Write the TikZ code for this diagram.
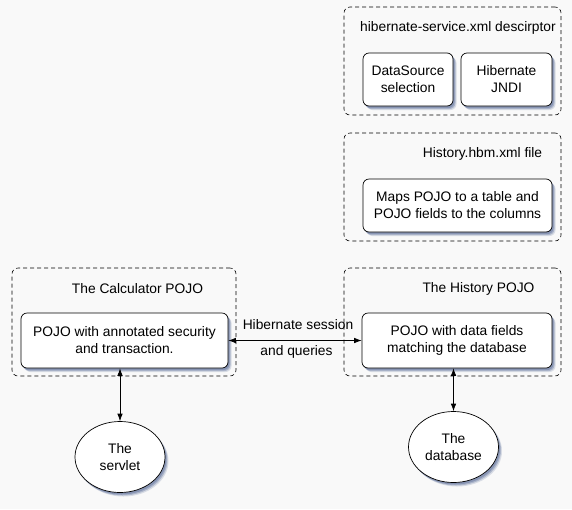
\documentclass[tikz,border=0pt]{standalone}
\usepackage{fontspec}
\setmainfont{Liberation Sans}
\usetikzlibrary{shadows,arrows.meta,shapes.geometric}
\definecolor{shadowc}{RGB}{120,135,170}
\definecolor{bgc}{RGB}{249,249,249}
\begin{document}
\begin{tikzpicture}[x=1pt,y=-1pt,
  font=\fontsize{13.8}{17}\selectfont,
  group/.style={draw, dash pattern=on 4pt off 3pt, rounded corners=6pt, line width=0.6pt, inner sep=0pt},
  myshadow/.style={
    drop shadow={shadow xshift=3.5pt, shadow yshift=-4pt, fill=shadowc, opacity=0.25},
    drop shadow={shadow xshift=2.5pt, shadow yshift=-3pt, fill=shadowc, opacity=0.45},
    drop shadow={shadow xshift=1.5pt, shadow yshift=-2pt, fill=shadowc, opacity=0.7}},
  box/.style={draw, fill=white, rounded corners=6pt, line width=0.7pt, align=center, inner sep=0pt, myshadow},
  oval/.style={ellipse, draw, fill=white, line width=0.7pt, align=center, inner sep=0pt, myshadow},
  title/.style={inner sep=0pt, anchor=center},
  link/.style={<->, >={Latex[length=7.5pt,width=5.5pt]}, line width=0.7pt}]
\fill[bgc] (0,0) rectangle (572,509);
\useasboundingbox (0,0) rectangle (572,509);

% groups
\node[group, minimum width=217pt, minimum height=108pt] (g1) at (452.5,61) {};
\node[group, minimum width=217pt, minimum height=108pt] (g2) at (452.5,187) {};
\node[group, minimum width=224pt, minimum height=108pt] (g3) at (124,322) {};
\node[group, minimum width=217pt, minimum height=108pt] (g4) at (452.5,322) {};

% titles
\node[title] (t1) at (458,28) {hibernate-service.xml descirptor};
\node[title] (t2) at (482.5,154) {History.hbm.xml file};
\node[title] (t3) at (137.5,289) {The Calculator POJO};
\node[title] (t4) at (478.5,289) {The History POJO};

% boxes
\node[box, minimum width=90pt, minimum height=53pt] (ds) at (408,79.5) {DataSource\\selection};
\node[box, minimum width=91pt, minimum height=53pt] (jndi) at (506.5,79.5) {Hibernate\\JNDI};
\node[box, minimum width=189pt, minimum height=53pt] (maps) at (457.5,205.5) {Maps POJO to a table and\\POJO fields to the columns};
\node[box, minimum width=207pt, minimum height=55pt] (calc) at (124.5,340.5) {POJO with annotated security\\and transaction.};
\node[box, minimum width=190pt, minimum height=55pt] (hist) at (457,340.5) {POJO with data fields\\matching the database};

% ovals
\node[oval, minimum width=90pt, minimum height=71pt] (servlet) at (120,457) {The\\servlet};
\node[oval, minimum width=90pt, minimum height=71pt] (db) at (453.5,447) {The\\database};

% connectors
\draw[link] (calc.east) -- (hist.west);
\node[title] (l1) at (298,325) {Hibernate session};
\node[title] (l2) at (296.5,352) {and queries};
\draw[link] (servlet.north) -- (calc.south -| servlet.north);
\draw[link] (db.north) -- (hist.south -| db.north);
\end{tikzpicture}
\end{document}
